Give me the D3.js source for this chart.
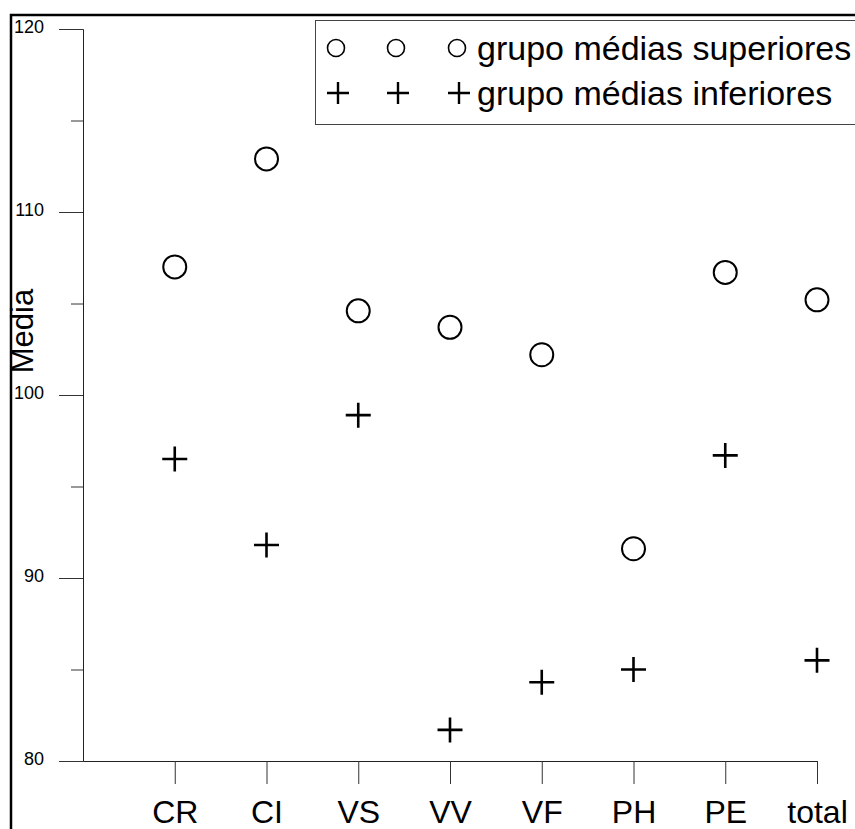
<!DOCTYPE html>
<html>
<head>
<meta charset="utf-8">
<script src="https://cdn.jsdelivr.net/npm/d3@7"></script>
<style>
  html, body { margin: 0; padding: 0; background: #fff; }
  svg { display: block; }
  svg text { font-family: "Liberation Sans", Arial, sans-serif; }
</style>
</head>
<body>
<svg id="chart" width="855" height="829"></svg>
<script>
// Group means per scale
const categories = ["CR", "CI", "VS", "VV", "VF", "PH", "PE", "total"];
const superiores = [107.0, 112.9, 104.6, 103.7, 102.2, 91.6, 106.7, 105.2];
const inferiores = [96.5, 91.8, 98.9, 81.7, 84.3, 85.0, 96.7, 85.5];
const majorTicks = [80, 90, 100, 110, 120];
const minorTicks = [85, 95, 105, 115];
const legendLabels = ["grupo médias superiores", "grupo médias inferiores"];

const FONT = "Liberation Sans, Arial, sans-serif";
const svg = d3.select("#chart");

// outer figure frame
svg.append("rect")
  .attr("x", 11).attr("y", 15)
  .attr("width", 900).attr("height", 900)
  .attr("fill", "none").attr("stroke", "#000").attr("stroke-width", 2.5);

const x = d3.scaleLinear().domain([0, categories.length]).range([83, 817]);
const y = d3.scaleLinear().domain([80, 120]).range([761, 29]);

// y axis: major ticks with labels
const yAxis = svg.append("g")
  .attr("transform", `translate(${x(0)},0)`)
  .call(d3.axisLeft(y).tickValues(majorTicks).tickSize(24).tickPadding(15)
        .tickFormat(d3.format("d")))
  .attr("font-family", FONT);
yAxis.select(".domain").attr("stroke", "#222");
yAxis.selectAll(".tick line").attr("stroke", "#333");
yAxis.selectAll(".tick text")
  .attr("font-size", 18).attr("fill", "#000")
  .attr("dy", "0.2em");

// y axis: minor ticks
svg.append("g")
  .attr("transform", `translate(${x(0)},0)`)
  .call(d3.axisLeft(y).tickValues(minorTicks).tickSize(12).tickFormat(""))
  .call(g => g.select(".domain").remove())
  .selectAll(".tick line").attr("stroke", "#333");

// x axis with category labels
const xAxis = svg.append("g")
  .attr("transform", `translate(0,${y(80)})`)
  .call(d3.axisBottom(x)
        .tickValues(categories.map((c, i) => i + 1))
        .tickFormat((d) => categories[d - 1])
        .tickSize(23).tickSizeOuter(0).tickPadding(16))
  .attr("font-family", FONT);
xAxis.select(".domain").attr("stroke", "#222");
xAxis.selectAll(".tick line").attr("stroke", "#333");
xAxis.selectAll(".tick text")
  .attr("font-size", 32).attr("fill", "#000");

// y axis title
svg.append("text")
  .attr("transform", `translate(33,331) rotate(-90)`)
  .attr("text-anchor", "middle")
  .attr("font-size", 31)
  .text("Media");

// upper-group means: open circles
svg.append("g").selectAll("circle")
  .data(superiores)
  .join("circle")
  .attr("cx", (d, i) => x(i + 1))
  .attr("cy", (d) => y(d))
  .attr("r", 11.5)
  .attr("fill", "none")
  .attr("stroke", "#000")
  .attr("stroke-width", 2);

// lower-group means: plus signs
const plus = (s) => `M${-s},0H${s}M0,${-s}V${s}`;
svg.append("g").selectAll("path")
  .data(inferiores)
  .join("path")
  .attr("transform", (d, i) => `translate(${x(i + 1)},${y(d)})`)
  .attr("d", plus(12.5))
  .attr("fill", "none")
  .attr("stroke", "#000")
  .attr("stroke-width", 2.6);

// legend
const legend = svg.append("g");
legend.append("rect")
  .attr("x", 315.5).attr("y", 20.5)
  .attr("width", 560).attr("height", 104)
  .attr("fill", "#fff").attr("stroke", "#444").attr("stroke-width", 1);

const rowY = [48, 93];
const symX = [336, 396, 457];
legend.selectAll("circle")
  .data(symX)
  .join("circle")
  .attr("cx", (d) => d).attr("cy", rowY[0])
  .attr("r", 8.5)
  .attr("fill", "none").attr("stroke", "#000").attr("stroke-width", 1.6);
legend.selectAll("path")
  .data(symX)
  .join("path")
  .attr("transform", (d) => `translate(${d + 2},${rowY[1]})`)
  .attr("d", plus(11))
  .attr("fill", "none").attr("stroke", "#000").attr("stroke-width", 2.4);
legend.selectAll("text")
  .data(legendLabels)
  .join("text")
  .attr("x", 477)
  .attr("y", (d, i) => rowY[i] + 12)
  .attr("font-size", 34)
  .text((d) => d);
</script>
</body>
</html>
